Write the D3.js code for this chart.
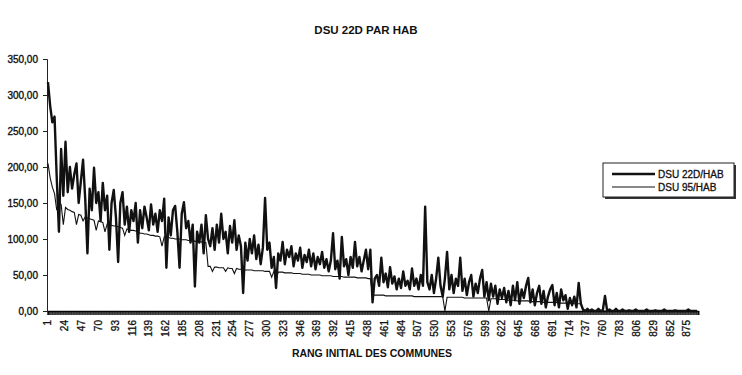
<!DOCTYPE html>
<html><head><meta charset="utf-8">
<script src="https://cdn.jsdelivr.net/npm/d3@7"></script>
<style>
html,body{margin:0;padding:0;background:#fff;}
svg text{font-family:"Liberation Sans",Arial,sans-serif;fill:#111;}
</style></head>
<body><svg id="c" width="742" height="375"></svg>
<script>
// ---- DATA ----
const communeCount = 890;            // number of categories (rang initial 1..890)
const sampleStep = 3;                // values read every 3rd rank: 1,4,7,...,889
const xTickLabels = ["1","24","47","70","93","116","139","162","185","208","231","254","277","300","323","346","369","392","415","438","461","484","507","530","553","576","599","622","645","668","691","714","737","760","783","806","829","852","875"];
const yTickValues = [0,50,100,150,200,250,300,350];
const seriesNames = ["DSU 22D/HAB","DSU 95/HAB"];
const dsu22d = [
 318,285,262,270,185,110,225,160,235,165,
 200,170,190,205,150,180,210,155,80,170,
 140,199,150,165,125,178,140,160,85,150,
 168,130,68,150,165,120,145,110,140,125,
 150,95,140,115,145,130,112,148,120,135,
 110,140,125,156,60,130,105,140,146,110,
 60,135,151,115,125,95,120,34,110,95,
 120,80,133,100,90,115,85,120,95,135,
 100,110,80,118,95,126,85,105,90,25,
 95,70,100,80,105,72,92,65,88,157,
 85,95,60,75,32,80,70,96,65,85,
 75,90,62,80,70,88,60,78,68,85,
 62,80,58,75,65,82,60,72,55,70,
 108,58,70,45,103,62,72,50,75,60,
 96,62,75,55,70,85,58,85,12,45,
 50,35,74,40,52,33,61,38,48,30,
 45,32,55,35,42,30,59,35,45,30,
 50,35,145,40,30,50,25,45,74,35,
 20,45,82,30,50,25,45,35,74,28,
 45,22,40,50,20,38,25,45,57,20,
 40,15,38,20,35,10,30,18,32,12,
 28,8,35,15,40,10,30,18,35,46,
 12,30,8,25,35,10,28,5,20,30,
 36,8,25,5,30,15,22,3,18,8,
 20,5,39,10,2,0,3,0,2,0,
 0,3,0,1,21,0,2,0,0,3,
 0,0,2,0,0,1,0,0,2,0,
 0,0,0,2,0,0,0,1,0,0,
 0,2,0,0,0,0,1,0,0,0,
 0,0,2,0,0,0,0
];
const dsu95 = [
 205,185,172,163,140,152,148,120,144,141,
 140,138,137,120,134,133,125,131,129,128,
 127,126,112,125,124,123,110,121,120,119,
 118,118,117,116,115,105,114,113,112,112,
 111,110,108,108,107,107,106,105,105,104,
 104,103,90,103,102,102,101,101,100,100,
 100,99,99,99,98,98,97,97,96,96,
 96,95,95,62,62,55,61,61,60,60,
 60,55,60,59,59,52,59,58,58,58,
 57,57,57,57,56,56,56,56,56,55,
 55,55,47,55,44,54,54,54,53,53,
 53,53,52,52,52,52,51,51,51,51,
 50,50,50,50,50,49,49,49,49,49,
 48,48,48,48,48,47,47,47,47,47,
 47,46,46,46,46,46,45,45,22,22,
 22,22,22,22,21,21,21,21,21,21,
 21,21,21,21,21,21,21,20,20,20,
 20,20,20,20,20,20,20,20,20,20,
 20,0,19,19,19,19,19,19,19,19,
 18,18,18,18,18,18,18,18,18,18,
 18,0,17,17,17,17,16,16,16,16,
 15,15,15,15,14,14,14,14,14,14,
 13,13,13,13,13,13,12,12,12,12,
 12,12,12,11,11,11,11,11,11,11,
 10,10,10,10,0,0,0,0,0,0,
 0,0,0,0,0,0,0,0,0,0,
 0,0,0,0,0,0,0,0,0,0,
 0,0,0,0,0,0,0,0,0,0,
 0,0,0,0,0,0,0,0,0,0,
 0,0,0,0,0,0,0
];

// ---- CHART ----
const svg = d3.select("#c");
const x = d3.scaleLinear().domain([0.5, communeCount + 0.5]).range([47.6, 698.2]);
const y = d3.scaleLinear().domain([0, 350]).range([311, 59]);
const rankOf = i => 1 + i * sampleStep;

// title
svg.append("text").attr("x", 366).attr("y", 34).attr("text-anchor", "middle")
  .style("font-size", "11.5px").style("font-weight", "bold").text("DSU 22D PAR HAB");

// y axis
const yAxis = d3.axisLeft(y).tickValues(yTickValues).tickSize(4).tickPadding(5)
  .tickFormat(d => d3.format(".2f")(d).replace(".", ","));
const gy = svg.append("g").attr("transform", "translate(47,0)").call(yAxis);
gy.selectAll("path,line").attr("stroke", "#222").attr("stroke-width", 1);
gy.selectAll("text").style("font-size", "10px").attr("fill", "#111")
  .attr("stroke", "#111").attr("stroke-width", 0.35);

// x axis: tick marks at every category boundary
const boundaries = d3.range(0, communeCount + 1).map(k => k + 0.5);
const xAxisTicks = d3.axisBottom(x).tickValues(boundaries).tickSize(4).tickFormat("");
const gx = svg.append("g").attr("transform", "translate(0,311)").call(xAxisTicks);
gx.select("path").attr("stroke", "#111").attr("stroke-width", 1.4);
gx.selectAll("line").attr("stroke", "#000").attr("stroke-width", 0.7);

// x labels (rotated)
const gl = svg.append("g");
gl.selectAll("text").data(xTickLabels).join("text")
  .attr("transform", d => `translate(${x(+d)},320) rotate(-90)`)
  .attr("text-anchor", "end").attr("dy", "0.35em")
  .attr("stroke", "#111").attr("stroke-width", 0.3)
  .style("font-size", "10px").text(d => d);

svg.append("text").attr("x", 372).attr("y", 357).attr("text-anchor", "middle")
  .style("font-size", "10.5px").style("font-weight", "bold").text("RANG INITIAL DES COMMUNES");

// lines
const line = d3.line().x((d, i) => x(rankOf(i))).y(d => y(d));
svg.append("path").datum(dsu22d).attr("d", line)
  .attr("fill", "none").attr("stroke", "#111").attr("stroke-width", 2.4).attr("stroke-linejoin", "round");
svg.append("path").datum(dsu95).attr("d", line)
  .attr("fill", "none").attr("stroke", "#111").attr("stroke-width", 1.1);

// legend
const lg = svg.append("g");
lg.append("rect").attr("x", 605).attr("y", 165).attr("width", 131).attr("height", 34).attr("fill", "#333");
lg.append("rect").attr("x", 603).attr("y", 163).attr("width", 131).attr("height", 34)
  .attr("fill", "#fff").attr("stroke", "#222").attr("stroke-width", 1);
const legendRows = [{name: seriesNames[0], w: 2.5, yy: 174}, {name: seriesNames[1], w: 1, yy: 187}];
legendRows.forEach(r => {
  lg.append("line").attr("x1", 612).attr("x2", 655).attr("y1", r.yy).attr("y2", r.yy)
    .attr("stroke", "#111").attr("stroke-width", r.w);
  lg.append("text").attr("x", 658).attr("y", r.yy).attr("dy", "0.35em")
    .attr("stroke", "#111").attr("stroke-width", 0.3)
    .style("font-size", "10px").text(r.name);
});
</script></body></html>
